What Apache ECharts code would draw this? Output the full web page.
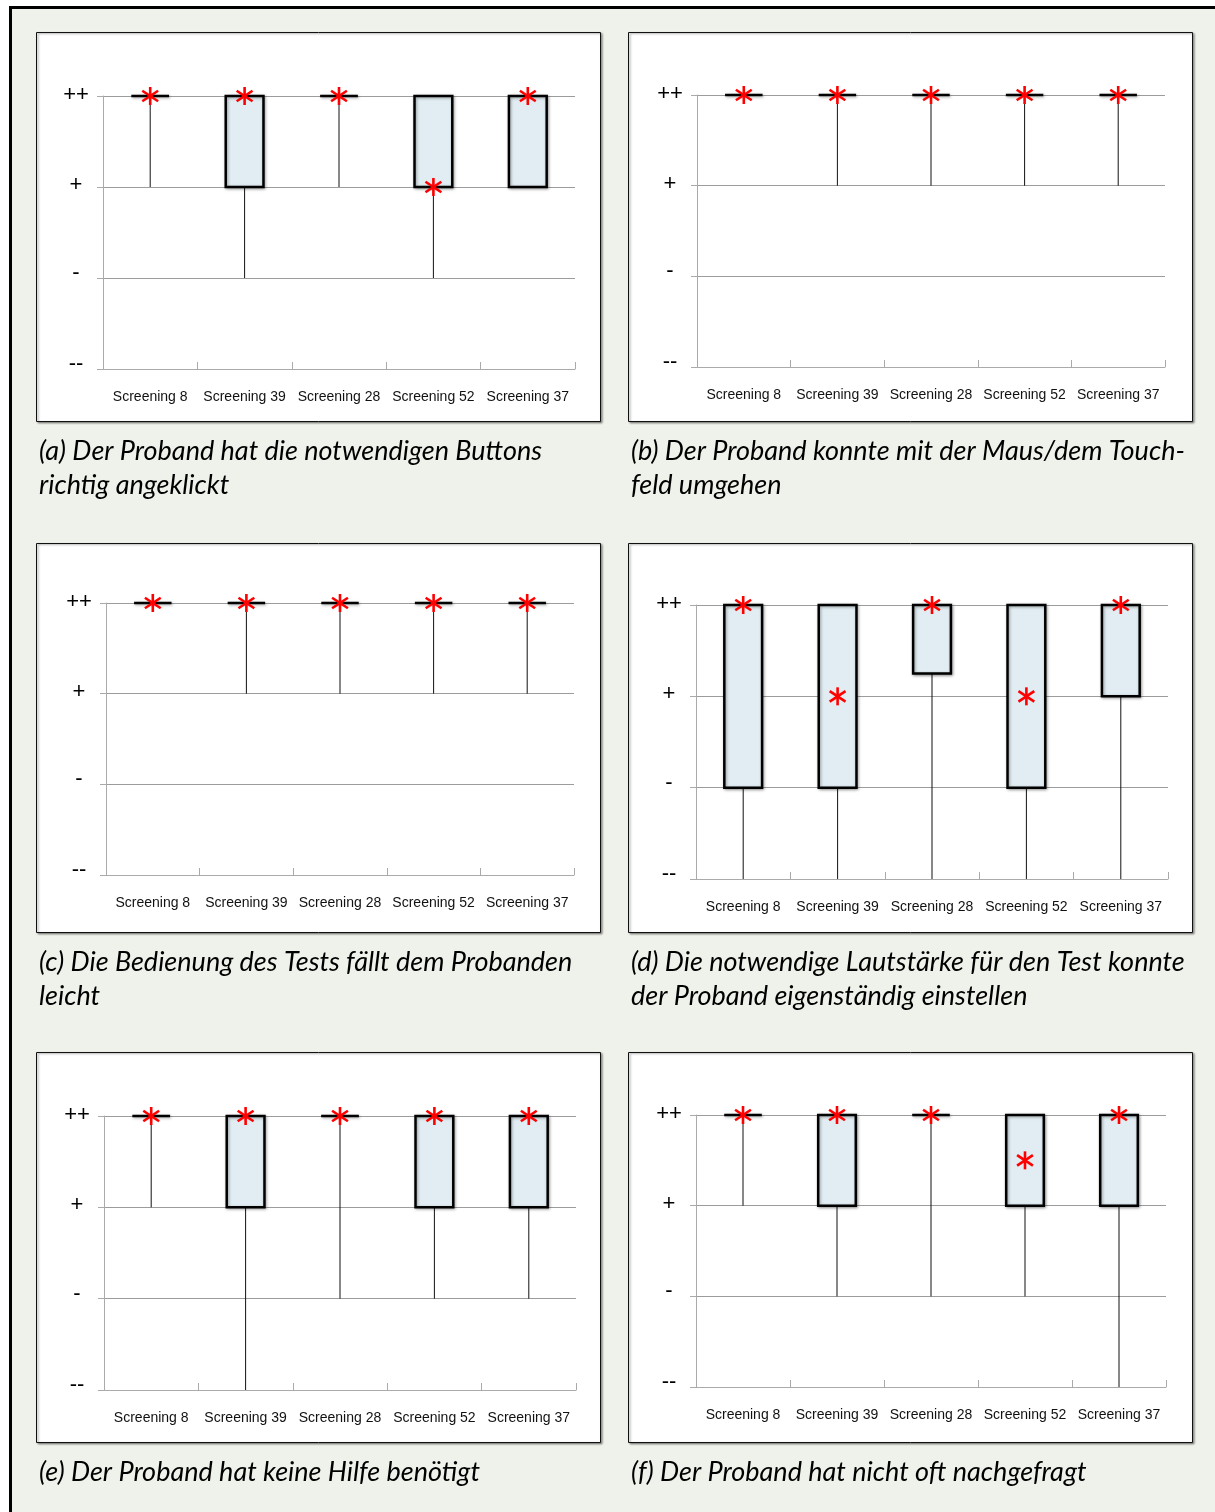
<!DOCTYPE html>
<html>
<head>
<meta charset="utf-8">
<script src="https://cdn.jsdelivr.net/npm/echarts@6/dist/echarts.min.js"></script>
<style>
html,body{margin:0;padding:0;background:#fff;}
#chart{width:1215px;height:1512px;}
</style>
</head>
<body>
<div id="chart"></div>
<script>
const categories = ['Screening 8', 'Screening 39', 'Screening 28', 'Screening 52', 'Screening 37'];
const yTickLabels = ['--', '-', '+', '++']; // values 1..4
// each row: [min, q1, median, q3, max]
const boxA = [[3,4,4,4,4],[2,3,4,4,4],[3,4,4,4,4],[2,3,3,4,4],[3,3,4,4,4]];
const boxB = [[4,4,4,4,4],[3,4,4,4,4],[3,4,4,4,4],[3,4,4,4,4],[3,4,4,4,4]];
const boxC = [[4,4,4,4,4],[3,4,4,4,4],[3,4,4,4,4],[3,4,4,4,4],[3,4,4,4,4]];
const boxD = [[1,2,4,4,4],[1,2,3,4,4],[1,3.25,4,4,4],[1,2,3,4,4],[1,3,4,4,4]];
const boxE = [[3,4,4,4,4],[1,3,4,4,4],[2,4,4,4,4],[2,3,4,4,4],[2,3,4,4,4]];
const boxF = [[3,4,4,4,4],[2,3,4,4,4],[2,4,4,4,4],[2,3,3.5,4,4],[1,3,4,4,4]];
const captions = [
  '(a) Der Proband hat die notwendigen Buttons\nrichtig angeklickt',
  '(b) Der Proband konnte mit der Maus/dem Touch-\nfeld umgehen',
  '(c) Die Bedienung des Tests fällt dem Probanden\nleicht',
  '(d) Die notwendige Lautstärke für den Test konnte\nder Proband eigenständig einstellen',
  '(e) Der Proband hat keine Hilfe benötigt',
  '(f) Der Proband hat nicht oft nachgefragt'
];

const panelData = [boxA, boxB, boxC, boxD, boxE, boxF];
// layout (pixels)
const panels = [
  {x:36,  y:32,   w:564, h:389, gl:103, gt:96,   gw:472, gh:273},
  {x:628, y:32,   w:564, h:389, gl:697, gt:95,   gw:468, gh:272},
  {x:36,  y:543,  w:564, h:389, gl:106, gt:603,  gw:468, gh:272},
  {x:628, y:543,  w:564, h:389, gl:696, gt:605,  gw:472, gh:274},
  {x:36,  y:1052, w:564, h:390, gl:104, gt:1116, gw:472, gh:274},
  {x:628, y:1052, w:564, h:390, gl:696, gt:1115, gw:470, gh:272}
];

const chart = echarts.init(document.getElementById('chart'), null, {renderer: 'canvas'});

function renderBox(params, api) {
  const x = api.value(0);
  const vMin = api.value(1), q1 = api.value(2), med = api.value(3), q3 = api.value(4), vMax = api.value(5);
  const pMin = api.coord([x, vMin]);
  const pMax = api.coord([x, vMax]);
  const pQ1 = api.coord([x, q1]);
  const pQ3 = api.coord([x, q3]);
  const pMed = api.coord([x, med]);
  const bw = api.size([1, 0])[0] * 0.4;
  const cx = pMin[0];
  const children = [];
  if (Math.abs(pMin[1] - pMax[1]) > 0.5) {
    children.push({
      type: 'line',
      shape: {x1: cx, y1: pMin[1], x2: cx, y2: pMax[1]},
      style: {stroke: '#111', lineWidth: 1}
    });
  }
  const top = Math.min(pQ1[1], pQ3[1]);
  const hgt = Math.abs(pQ1[1] - pQ3[1]);
  const shadow = {shadowBlur: 3, shadowOffsetX: 1, shadowOffsetY: 1, shadowColor: 'rgba(0,0,0,0.35)'};
  if (hgt > 1) {
    children.push({
      type: 'rect',
      shape: {x: cx - bw / 2, y: top, width: bw, height: hgt},
      style: Object.assign({fill: '#e1edf2', stroke: '#000', lineWidth: 2.5}, shadow)
    });
  } else {
    children.push({
      type: 'line',
      shape: {x1: cx - bw / 2, y1: top, x2: cx + bw / 2, y2: top},
      style: Object.assign({stroke: '#000', lineWidth: 2.5}, shadow)
    });
  }
  const r = 9;
  const mx = pMed[0], my = pMed[1];
  const dx = r * 0.88, dy = r * 0.58;
  const aStyle = {stroke: '#ff0000', lineWidth: 2.6};
  children.push({type: 'line', shape: {x1: mx, y1: my - r, x2: mx, y2: my + r}, style: aStyle});
  children.push({type: 'line', shape: {x1: mx - dx, y1: my - dy, x2: mx + dx, y2: my + dy}, style: aStyle});
  children.push({type: 'line', shape: {x1: mx - dx, y1: my + dy, x2: mx + dx, y2: my - dy}, style: aStyle});
  return {type: 'group', children: children};
}

const grids = [], xAxes = [], yAxes = [], series = [], titles = [];
const graphics = [
  {type: 'rect', z: -20, shape: {x: 10.5, y: 7.5, width: 1230, height: 1530},
   style: {fill: '#eff2ea', stroke: '#000', lineWidth: 3}}
];

const labelFont = {fontSize: 22, fontFamily: 'Liberation Sans, Arial, sans-serif', color: '#000'};
const richY = {
  pp: Object.assign({padding: [0, 0, 2, 0]}, labelFont),
  p: Object.assign({padding: [0, 0, 4, 0]}, labelFont),
  m: Object.assign({padding: [0, 0, 10, 0]}, labelFont)
};
const richKey = ['m', 'm', 'p', 'pp'];

panels.forEach((p, i) => {
  graphics.push({type: 'rect', z: -10,
    shape: {x: p.x + 0.5, y: p.y + 0.5, width: p.w, height: p.h},
    style: {fill: '#fff', stroke: '#111', lineWidth: 1,
      shadowBlur: 2, shadowOffsetX: 1.5, shadowOffsetY: 1, shadowColor: 'rgba(0,0,0,0.4)'}});
  grids.push({left: p.gl, top: p.gt, width: p.gw, height: p.gh, containLabel: false});
  xAxes.push({
    type: 'category', gridIndex: i, data: categories, boundaryGap: true,
    axisLine: {show: true, lineStyle: {color: '#aaa', width: 1}},
    axisTick: {show: true, inside: true, length: 7, alignWithLabel: false, lineStyle: {color: '#aaa'}},
    axisLabel: {show: true, interval: 0, margin: 21, color: '#111', fontSize: 14,
      fontFamily: 'Liberation Sans, Arial, sans-serif'},
    splitLine: {show: false}
  });
  yAxes.push({
    type: 'value', gridIndex: i, min: 1, max: 4, interval: 1,
    axisLine: {show: true, lineStyle: {color: '#aaa', width: 1}},
    axisTick: {show: true, length: 6, lineStyle: {color: '#aaa'}},
    axisLabel: Object.assign({show: true, margin: 27, align: 'center',
      formatter: v => {
        const k = Math.round(v) - 1;
        return yTickLabels[k] ? '{' + richKey[k] + '|' + yTickLabels[k] + '}' : '';
      },
      rich: richY}, labelFont),
    splitLine: {show: true, lineStyle: {color: '#9c9c9c', width: 1}}
  });
  series.push({
    type: 'custom', xAxisIndex: i, yAxisIndex: i, clip: false,
    renderItem: renderBox,
    encode: {x: 0, y: [1, 2, 3, 4, 5]},
    data: panelData[i].map((row, k) => [k].concat(row)),
    z: 5
  });
  titles.push({
    text: captions[i], left: p.x - 2, top: p.y + p.h + 8,
    textStyle: {fontFamily: 'Lato', fontStyle: 'italic', fontWeight: 'normal',
      fontSize: 27, lineHeight: 34, color: '#000'}
  });
});

chart.setOption({
  animation: false,
  backgroundColor: '#fff',
  title: titles,
  grid: grids,
  xAxis: xAxes,
  yAxis: yAxes,
  series: series,
  graphic: graphics
});
</script>
</body>
</html>
